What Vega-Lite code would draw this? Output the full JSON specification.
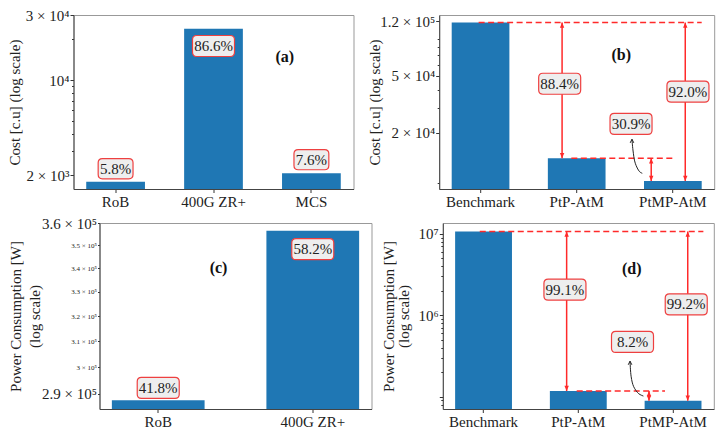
{
  "$schema": "https://vega.github.io/schema/vega-lite/v6.json",
  "padding": {"left": 6.5, "top": 7, "right": 5, "bottom": 5},
  "config": {
    "font": "Liberation Serif",
    "view": {"stroke": "#999999", "strokeWidth": 1},
    "axis": {"labelFont": "Liberation Serif", "titleFont": "Liberation Serif", "labelFontSize": 15, "titleFontSize": 15, "titleFontWeight": "normal", "labelColor": "#222222", "titleColor": "#222222", "tickColor": "#333333", "domainColor": "#444444", "grid": false, "labelPadding": 1, "titlePadding": 0, "tickSize": 3.5, "labelOverlap": false},
    "axisX": {"labelAngle": 0, "labelPadding": 2},
    "text": {"font": "Liberation Serif"}
  },
  "datasets": {
    "a_bars": [{"cat": "RoB", "v": 1795}, {"cat": "400G ZR+", "v": 23810}, {"cat": "MCS", "v": 2068}],
    "a_lab": [{"x": 0, "y": 2236, "label": "5.8%"}, {"x": 1, "y": 17770, "label": "86.6%"}, {"x": 2, "y": 2604, "label": "7.6%"}],
    "a_tag": [{"x": 1.728, "y": 14880, "label": "(a)"}],
    "b_bars": [{"cat": "Benchmark", "v": 117700}, {"cat": "PtP-AtM", "v": 13310}, {"cat": "PtMP-AtM", "v": 9250}],
    "b_lab": [{"x": 0.823, "y": 44080, "label": "88.4%"}, {"x": 2.157, "y": 38850, "label": "92.0%"}, {"x": 1.565, "y": 23120, "label": "30.9%"}],
    "b_tag": [{"x": 1.464, "y": 70000, "label": "(b)"}],
    "b_h": [{"x": -0.02, "x2": 2.3, "y": 117700}, {"x": 0.944, "x2": 2.011, "y": 13310}],
    "b_arr": [{"x": 0.848, "top": 117700, "bot": 13310}, {"x": 2.129, "top": 117700, "bot": 9250}, {"x": 1.775, "top": 13310, "bot": 9250}],
    "b_curve": [{"i": 0, "x": 1.575, "y": 18080}, {"i": 1, "x": 1.585, "y": 15220}, {"i": 2, "x": 1.609, "y": 12300}, {"i": 3, "x": 1.654, "y": 10740}, {"i": 4, "x": 1.682, "y": 10460}],
    "c_bars": [{"cat": "RoB", "v": 287700}, {"cat": "400G ZR+", "v": 356500}],
    "c_lab": [{"x": 0, "y": 292200, "label": "41.8%"}, {"x": 1, "y": 348300, "label": "58.2%"}],
    "c_tag": [{"x": 0.39, "y": 340000, "label": "(c)"}],
    "d_bars": [{"cat": "Benchmark", "v": 10700000}, {"cat": "PtP-AtM", "v": 117500}, {"cat": "PtMP-AtM", "v": 89300}],
    "d_lab": [{"x": 0.859, "y": 2070000, "label": "99.1%"}, {"x": 2.139, "y": 1363000, "label": "99.2%"}, {"x": 1.572, "y": 471000, "label": "8.2%"}],
    "d_tag": [{"x": 1.564, "y": 3720000, "label": "(d)"}],
    "d_h": [{"x": -0.04, "x2": 2.32, "y": 10700000}, {"x": 0.983, "x2": 1.915, "y": 117500}],
    "d_arr": [{"x": 0.877, "top": 10700000, "bot": 117500}, {"x": 2.155, "top": 10700000, "bot": 89300}, {"x": 1.746, "top": 117500, "bot": 89300}],
    "d_curve": [{"i": 0, "x": 1.546, "y": 273500}, {"i": 1, "x": 1.558, "y": 175700}, {"i": 2, "x": 1.585, "y": 132600}, {"i": 3, "x": 1.638, "y": 108900}, {"i": 4, "x": 1.687, "y": 102000}]
  },
  "spacing": 5,
  "vconcat": [
    {
      "bounds": "flush",
      "spacing": 85.7,
      "hconcat": [
        {
          "width": 280, "height": 174,
          "resolve": {"scale": {"x": "independent"}},
          "layer": [
            {"data": {"name": "a_bars"}, "mark": {"type": "bar", "color": "#1f77b4"},
             "encoding": {
               "x": {"field": "cat", "type": "nominal", "sort": null, "scale": {"paddingInner": 0.4, "paddingOuter": 0.13}, "axis": {"title": null}},
               "y": {"field": "v", "type": "quantitative", "scale": {"type": "log", "domain": [1587, 30000], "nice": false},
                     "axis": {"title": "Cost [c.u] (log scale)", "minExtent": 51.5, "maxExtent": 51.5, "values": [2000, 3000, 4000, 5000, 6000, 7000, 8000, 9000, 10000, 20000, 30000],
                              "labelExpr": "datum.value == 2000 ? '2 × 10³' : datum.value == 10000 ? '10⁴' : datum.value == 30000 ? '3 × 10⁴' : ''",
                              "tickSize": {"condition": {"test": "indexof([2000, 10000, 30000], datum.value) >= 0", "value": 3.5}, "value": 2}}},
               "y2": {"datum": 1587}
             }},
            {"data": {"name": "a_lab"}, "mark": {"type": "point", "size": 1764, "filled": true, "fill": "#eeeeee", "stroke": "#ee4040", "strokeWidth": 1.2, "opacity": 1},
             "encoding": {
               "x": {"field": "x", "type": "quantitative", "scale": {"domain": [-0.43, 2.43], "nice": false, "zero": false}, "axis": null},
               "y": {"field": "y", "type": "quantitative"},
               "shape": {"condition": {"test": "datum.label == '5.8%' || datum.label == '7.6%'", "value": "M-0.63,-0.48L0.63,-0.48Q0.83,-0.48 0.83,-0.28L0.83,0.28Q0.83,0.48 0.63,0.48L-0.63,0.48Q-0.83,0.48 -0.83,0.28L-0.83,-0.28Q-0.83,-0.48 -0.63,-0.48Z"}, "value": "M-0.8,-0.5L0.8,-0.5Q1,-0.5 1,-0.3L1,0.3Q1,0.5 0.8,0.5L-0.8,0.5Q-1,0.5 -1,0.3L-1,-0.3Q-1,-0.5 -0.8,-0.5Z"}
             }},
            {"data": {"name": "a_lab"}, "mark": {"type": "text", "fontSize": 15, "color": "#222222"},
             "encoding": {
               "x": {"field": "x", "type": "quantitative", "scale": {"domain": [-0.43, 2.43], "nice": false, "zero": false}, "axis": null},
               "y": {"field": "y", "type": "quantitative"},
               "text": {"field": "label"}
             }},
            {"data": {"name": "a_tag"}, "mark": {"type": "text", "fontSize": 16, "fontWeight": "bold", "color": "#111111"},
             "encoding": {
               "x": {"field": "x", "type": "quantitative", "scale": {"domain": [-0.43, 2.43], "nice": false, "zero": false}, "axis": null},
               "y": {"field": "y", "type": "quantitative"},
               "text": {"field": "label"}
             }}
          ]
        },
        {
          "width": 275, "height": 174,
          "resolve": {"scale": {"x": "independent"}},
          "layer": [
            {"data": {"name": "b_bars"}, "mark": {"type": "bar", "color": "#1f77b4"},
             "encoding": {
               "x": {"field": "cat", "type": "nominal", "sort": null, "scale": {"paddingInner": 0.4, "paddingOuter": 0.13}, "axis": {"title": null}},
               "y": {"field": "v", "type": "quantitative", "scale": {"type": "log", "domain": [8130, 133000], "nice": false},
                     "axis": {"title": "Cost [c.u] (log scale)", "minExtent": 57, "maxExtent": 57, "values": [9000, 20000, 30000, 40000, 50000, 60000, 70000, 80000, 90000, 120000],
                              "labelExpr": "datum.value == 20000 ? '2 × 10⁴' : datum.value == 50000 ? '5 × 10⁴' : datum.value == 120000 ? '1.2 × 10⁵' : ''",
                              "tickSize": {"condition": {"test": "indexof([20000, 50000, 120000], datum.value) >= 0", "value": 3.5}, "value": 2}}},
               "y2": {"datum": 8130}
             }},
            {"data": {"name": "b_h"}, "mark": {"type": "rule", "color": "#ff2a2a", "strokeWidth": 1.5, "strokeDash": [6, 3.5]},
             "encoding": {
               "x": {"field": "x", "type": "quantitative", "scale": {"domain": [-0.43, 2.43], "nice": false, "zero": false}, "axis": null},
               "x2": {"field": "x2"},
               "y": {"field": "y", "type": "quantitative"}
             }},
            {"data": {"name": "b_arr"}, "mark": {"type": "rule", "color": "#ff2a2a", "strokeWidth": 1.5},
             "encoding": {
               "x": {"field": "x", "type": "quantitative", "scale": {"domain": [-0.43, 2.43], "nice": false, "zero": false}, "axis": null},
               "y": {"field": "top", "type": "quantitative"},
               "y2": {"field": "bot"}
             }},
            {"data": {"name": "b_arr"}, "mark": {"type": "point", "shape": "M0,0L-0.55,1.3L0.55,1.3Z", "size": 64, "filled": true, "color": "#ff2a2a", "opacity": 1, "strokeWidth": 0},
             "encoding": {
               "x": {"field": "x", "type": "quantitative", "scale": {"domain": [-0.43, 2.43], "nice": false, "zero": false}, "axis": null},
               "y": {"field": "top", "type": "quantitative"}
             }},
            {"data": {"name": "b_arr"}, "mark": {"type": "point", "shape": "M0,0L-0.55,-1.3L0.55,-1.3Z", "size": 64, "filled": true, "color": "#ff2a2a", "opacity": 1, "strokeWidth": 0},
             "encoding": {
               "x": {"field": "x", "type": "quantitative", "scale": {"domain": [-0.43, 2.43], "nice": false, "zero": false}, "axis": null},
               "y": {"field": "bot", "type": "quantitative"}
             }},
            {"data": {"name": "b_curve"}, "mark": {"type": "line", "color": "#222222", "strokeWidth": 1, "interpolate": "catmull-rom"},
             "encoding": {
               "x": {"field": "x", "type": "quantitative", "scale": {"domain": [-0.43, 2.43], "nice": false, "zero": false}, "axis": null},
               "y": {"field": "y", "type": "quantitative"},
               "order": {"field": "i"}
             }},
            {"data": {"name": "b_curve"}, "transform": [{"filter": "datum.i == 0"}], "mark": {"type": "point", "shape": "M-0.6,1.2L0,0L0.6,1.2", "size": 36, "filled": false, "stroke": "#222222", "strokeWidth": 1, "opacity": 1},
             "encoding": {
               "x": {"field": "x", "type": "quantitative", "scale": {"domain": [-0.43, 2.43], "nice": false, "zero": false}, "axis": null},
               "y": {"field": "y", "type": "quantitative"}
             }},
            {"data": {"name": "b_lab"}, "mark": {"type": "point", "size": 1764, "filled": true, "fill": "#eeeeee", "stroke": "#ee4040", "strokeWidth": 1.2, "opacity": 1, "shape": "M-0.8,-0.5L0.8,-0.5Q1,-0.5 1,-0.3L1,0.3Q1,0.5 0.8,0.5L-0.8,0.5Q-1,0.5 -1,0.3L-1,-0.3Q-1,-0.5 -0.8,-0.5Z"},
             "encoding": {
               "x": {"field": "x", "type": "quantitative", "scale": {"domain": [-0.43, 2.43], "nice": false, "zero": false}, "axis": null},
               "y": {"field": "y", "type": "quantitative"}
             }},
            {"data": {"name": "b_lab"}, "mark": {"type": "text", "fontSize": 15, "color": "#222222"},
             "encoding": {
               "x": {"field": "x", "type": "quantitative", "scale": {"domain": [-0.43, 2.43], "nice": false, "zero": false}, "axis": null},
               "y": {"field": "y", "type": "quantitative"},
               "text": {"field": "label"}
             }},
            {"data": {"name": "b_tag"}, "mark": {"type": "text", "fontSize": 16, "fontWeight": "bold", "color": "#111111"},
             "encoding": {
               "x": {"field": "x", "type": "quantitative", "scale": {"domain": [-0.43, 2.43], "nice": false, "zero": false}, "axis": null},
               "y": {"field": "y", "type": "quantitative"},
               "text": {"field": "label"}
             }}
          ]
        }
      ]
    },
    {
      "bounds": "flush",
      "spacing": 0,
      "hconcat": [
        {"width": 25.7, "height": 1, "view": {"stroke": null}, "data": {"values": []}, "mark": {"type": "point"}, "encoding": {}},
        {
          "bounds": "flush",
          "spacing": 71.3,
          "hconcat": [
            {
              "width": 272, "height": 186,
              "resolve": {"scale": {"x": "independent"}},
              "layer": [
                {"data": {"name": "c_bars"}, "mark": {"type": "bar", "color": "#1f77b4"},
                 "encoding": {
                   "x": {"field": "cat", "type": "nominal", "sort": null, "scale": {"paddingInner": 0.4, "paddingOuter": 0.08}, "axis": {"title": null}},
                   "y": {"field": "v", "type": "quantitative", "scale": {"type": "log", "domain": [284500, 360000], "nice": false},
                         "axis": {"title": ["Power Consumption [W]", "(log scale)"], "titleLineHeight": 19, "minExtent": 57, "maxExtent": 57, "values": [290000, 300000, 310000, 320000, 330000, 340000, 350000, 360000],
                                  "labelExpr": "datum.value == 300000 ? '3 × 10⁵' : format(datum.value / 100000, '.1f') + ' × 10⁵'",
                                  "labelFontSize": {"condition": {"test": "datum.value == 290000 || datum.value == 360000", "value": 15}, "value": 7},
                                  "tickSize": 2}},
                   "y2": {"datum": 284500}
                 }},
                {"data": {"name": "c_lab"}, "mark": {"type": "point", "size": 1764, "filled": true, "fill": "#eeeeee", "stroke": "#ee4040", "strokeWidth": 1.2, "opacity": 1, "shape": "M-0.8,-0.5L0.8,-0.5Q1,-0.5 1,-0.3L1,0.3Q1,0.5 0.8,0.5L-0.8,0.5Q-1,0.5 -1,0.3L-1,-0.3Q-1,-0.5 -0.8,-0.5Z"},
                 "encoding": {
                   "x": {"field": "x", "type": "quantitative", "scale": {"domain": [-0.38, 1.38], "nice": false, "zero": false}, "axis": null},
                   "y": {"field": "y", "type": "quantitative"}
                 }},
                {"data": {"name": "c_lab"}, "mark": {"type": "text", "fontSize": 15, "color": "#222222"},
                 "encoding": {
                   "x": {"field": "x", "type": "quantitative", "scale": {"domain": [-0.38, 1.38], "nice": false, "zero": false}, "axis": null},
                   "y": {"field": "y", "type": "quantitative"},
                   "text": {"field": "label"}
                 }},
                {"data": {"name": "c_tag"}, "mark": {"type": "text", "fontSize": 16, "fontWeight": "bold", "color": "#111111"},
                 "encoding": {
                   "x": {"field": "x", "type": "quantitative", "scale": {"domain": [-0.38, 1.38], "nice": false, "zero": false}, "axis": null},
                   "y": {"field": "y", "type": "quantitative"},
                   "text": {"field": "label"}
                 }}
              ]
            },
            {
              "width": 271, "height": 186,
              "resolve": {"scale": {"x": "independent"}},
              "layer": [
                {"data": {"name": "d_bars"}, "mark": {"type": "bar", "color": "#1f77b4"},
                 "encoding": {
                   "x": {"field": "cat", "type": "nominal", "sort": null, "scale": {"paddingInner": 0.4, "paddingOuter": 0.13}, "axis": {"title": null}},
                   "y": {"field": "v", "type": "quantitative", "scale": {"type": "log", "domain": [70700, 13600000], "nice": false},
                         "axis": {"title": ["Power Consumption [W]", "(log scale)"], "titleLineHeight": 15, "minExtent": 31, "maxExtent": 31, "values": [80000, 90000, 100000, 200000, 300000, 400000, 500000, 600000, 700000, 800000, 900000, 1000000, 2000000, 3000000, 4000000, 5000000, 6000000, 7000000, 8000000, 9000000, 10000000],
                                  "labelExpr": "datum.value == 1000000 ? '10⁶' : datum.value == 10000000 ? '10⁷' : ''",
                                  "tickSize": {"condition": {"test": "indexof([100000, 1000000, 10000000], datum.value) >= 0", "value": 3.5}, "value": 2}}},
                   "y2": {"datum": 70700}
                 }},
                {"data": {"name": "d_h"}, "mark": {"type": "rule", "color": "#ff2a2a", "strokeWidth": 1.5, "strokeDash": [6, 3.5]},
                 "encoding": {
                   "x": {"field": "x", "type": "quantitative", "scale": {"domain": [-0.43, 2.43], "nice": false, "zero": false}, "axis": null},
                   "x2": {"field": "x2"},
                   "y": {"field": "y", "type": "quantitative"}
                 }},
                {"data": {"name": "d_arr"}, "mark": {"type": "rule", "color": "#ff2a2a", "strokeWidth": 1.5},
                 "encoding": {
                   "x": {"field": "x", "type": "quantitative", "scale": {"domain": [-0.43, 2.43], "nice": false, "zero": false}, "axis": null},
                   "y": {"field": "top", "type": "quantitative"},
                   "y2": {"field": "bot"}
                 }},
                {"data": {"name": "d_arr"}, "mark": {"type": "point", "shape": "M0,0L-0.55,1.3L0.55,1.3Z", "size": 64, "filled": true, "color": "#ff2a2a", "opacity": 1, "strokeWidth": 0},
                 "encoding": {
                   "x": {"field": "x", "type": "quantitative", "scale": {"domain": [-0.43, 2.43], "nice": false, "zero": false}, "axis": null},
                   "y": {"field": "top", "type": "quantitative"}
                 }},
                {"data": {"name": "d_arr"}, "mark": {"type": "point", "shape": "M0,0L-0.55,-1.3L0.55,-1.3Z", "size": 64, "filled": true, "color": "#ff2a2a", "opacity": 1, "strokeWidth": 0},
                 "encoding": {
                   "x": {"field": "x", "type": "quantitative", "scale": {"domain": [-0.43, 2.43], "nice": false, "zero": false}, "axis": null},
                   "y": {"field": "bot", "type": "quantitative"}
                 }},
                {"data": {"name": "d_curve"}, "mark": {"type": "line", "color": "#222222", "strokeWidth": 1, "interpolate": "catmull-rom"},
                 "encoding": {
                   "x": {"field": "x", "type": "quantitative", "scale": {"domain": [-0.43, 2.43], "nice": false, "zero": false}, "axis": null},
                   "y": {"field": "y", "type": "quantitative"},
                   "order": {"field": "i"}
                 }},
                {"data": {"name": "d_curve"}, "transform": [{"filter": "datum.i == 0"}], "mark": {"type": "point", "shape": "M-0.6,1.2L0,0L0.6,1.2", "size": 36, "filled": false, "stroke": "#222222", "strokeWidth": 1, "opacity": 1},
                 "encoding": {
                   "x": {"field": "x", "type": "quantitative", "scale": {"domain": [-0.43, 2.43], "nice": false, "zero": false}, "axis": null},
                   "y": {"field": "y", "type": "quantitative"}
                 }},
                {"data": {"name": "d_lab"}, "mark": {"type": "point", "size": 1764, "filled": true, "fill": "#eeeeee", "stroke": "#ee4040", "strokeWidth": 1.2, "opacity": 1, "shape": "M-0.8,-0.5L0.8,-0.5Q1,-0.5 1,-0.3L1,0.3Q1,0.5 0.8,0.5L-0.8,0.5Q-1,0.5 -1,0.3L-1,-0.3Q-1,-0.5 -0.8,-0.5Z"},
                 "encoding": {
                   "x": {"field": "x", "type": "quantitative", "scale": {"domain": [-0.43, 2.43], "nice": false, "zero": false}, "axis": null},
                   "y": {"field": "y", "type": "quantitative"}
                 }},
                {"data": {"name": "d_lab"}, "mark": {"type": "text", "fontSize": 15, "color": "#222222"},
                 "encoding": {
                   "x": {"field": "x", "type": "quantitative", "scale": {"domain": [-0.43, 2.43], "nice": false, "zero": false}, "axis": null},
                   "y": {"field": "y", "type": "quantitative"},
                   "text": {"field": "label"}
                 }},
                {"data": {"name": "d_tag"}, "mark": {"type": "text", "fontSize": 16, "fontWeight": "bold", "color": "#111111"},
                 "encoding": {
                   "x": {"field": "x", "type": "quantitative", "scale": {"domain": [-0.43, 2.43], "nice": false, "zero": false}, "axis": null},
                   "y": {"field": "y", "type": "quantitative"},
                   "text": {"field": "label"}
                 }}
              ]
            }
          ]
        }
      ]
    }
  ]
}
